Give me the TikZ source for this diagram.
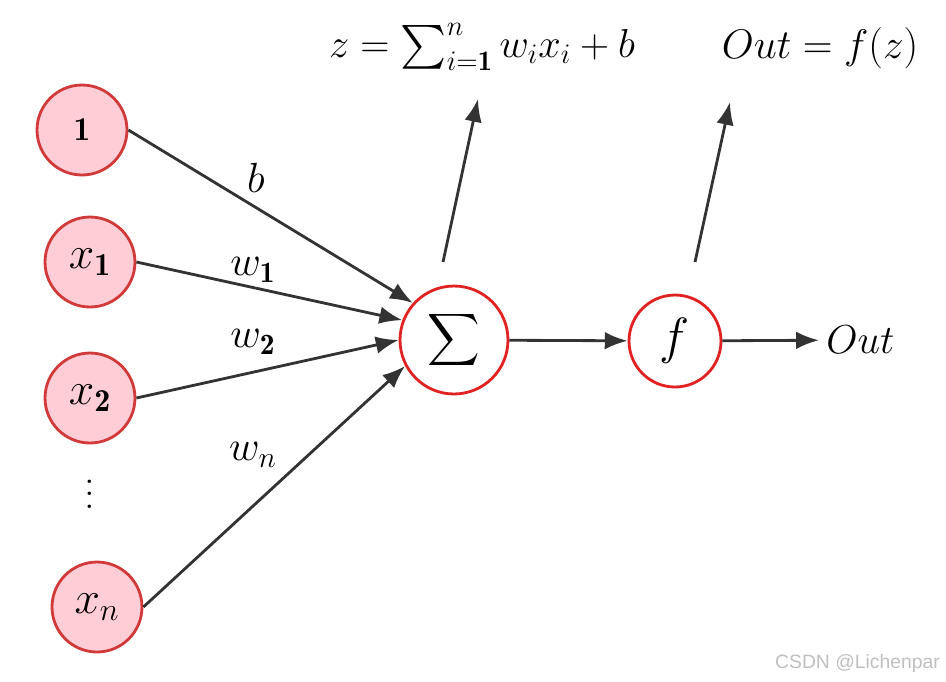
\RequirePackage{fix-cm}
\documentclass[tikz,border=0pt]{standalone}
\usepackage{amsmath}
\usepackage{fontspec}
\newfontfamily\wmfont{Liberation Sans}
\usetikzlibrary{arrows.meta, positioning}
\definecolor{nodepink}{HTML}{FFCDD5}
\definecolor{nodered}{HTML}{D03A3A}
\definecolor{sumred}{HTML}{E02222}
\definecolor{linegray}{HTML}{333333}
\tikzset{
  innode/.style={circle, draw=nodered, fill=nodepink, line width=1.6pt,
    minimum size=1.8cm, inner sep=0pt, font=\fontsize{26}{30}\selectfont},
  opnode/.style={circle, draw=sumred, fill=white, line width=1.6pt, inner sep=0pt},
  wire/.style={draw=linegray, line width=1.6pt, -{Latex[length=13pt, width=10pt]}},
  lbl/.style={font=\fontsize{24}{28}\selectfont}
}

\begin{document}
\begin{tikzpicture}[x=0.02cm, y=-0.02cm]
    \useasboundingbox (0,0) rectangle (946,681);

    % Inputs
    \node[innode, font=\fontsize{19}{22}\selectfont] (one) at (82,130) {$\mathbf{1}$};
    \node[innode] (x1) at (90,262) {$x_{\mathbf{1}}$};
    \node[innode] (x2) at (90,398) {$x_{\mathbf{2}}$};
    \node[font=\fontsize{24}{28}\selectfont] (dots) at (90,494)
        {\vbox{\baselineskip=7pt \lineskiplimit=0pt \hbox{.}\hbox{.}\hbox{.}}};
    \node[innode] (xn) at (97,607) {$x_n$};

    % Sum and activation
    \node[opnode, minimum size=2.16cm, font=\fontsize{22}{26}\selectfont] (sum) at (454,340) {$\displaystyle\sum$};
    \node[opnode, minimum size=1.84cm, font=\fontsize{29}{33}\selectfont] (act) at (675,341) {$f$};
    \node[anchor=west, inner sep=4pt, font=\fontsize{23}{27}\selectfont] (out) at (819,340) {$Out$};

    % Weights
    \draw[wire] (one.east) -- (sum.138);
    \draw[wire] (x1.east) -- (sum.159);
    \draw[wire] (x2.east) -- (sum.west);
    \draw[wire] (xn.east) -- (sum.208);
    \node[lbl] (wb) at (256,178) {$b$};
    \node[lbl] (w1) at (253,270) {$w_{\mathbf{1}}$};
    \node[lbl] (w2) at (253,342) {$w_{\mathbf{2}}$};
    \node[lbl] (wn) at (253,455) {$w_n$};

    \draw[wire] (sum) -- (act);
    \draw[wire] (act) -- (out);

    % Formulas
    \node[anchor=base, inner sep=1pt, font=\fontsize{23}{27}\selectfont] (zeq) at (482,57) {$z=\sum_{i=\mathbf{1}}^{n} w_i x_i + b$};
    \node[anchor=base, inner sep=1pt, font=\fontsize{23.5}{27}\selectfont] (outeq) at (820,58) {$Out=f(z)$};
    \coordinate (zfoot) at (443,262);
    \coordinate (ztip) at (478,99);
    \coordinate (ofoot) at (695,262);
    \coordinate (otip) at (730,102);
    \draw[wire] (zfoot) -- (ztip);
    \draw[wire] (ofoot) -- (otip);

    % Watermark
    \node[anchor=east, text=gray!50, font=\wmfont\fontsize{11}{13}\selectfont] (mark) at (946,663) {CSDN @Lichenpar};
\end{tikzpicture}
\end{document}
